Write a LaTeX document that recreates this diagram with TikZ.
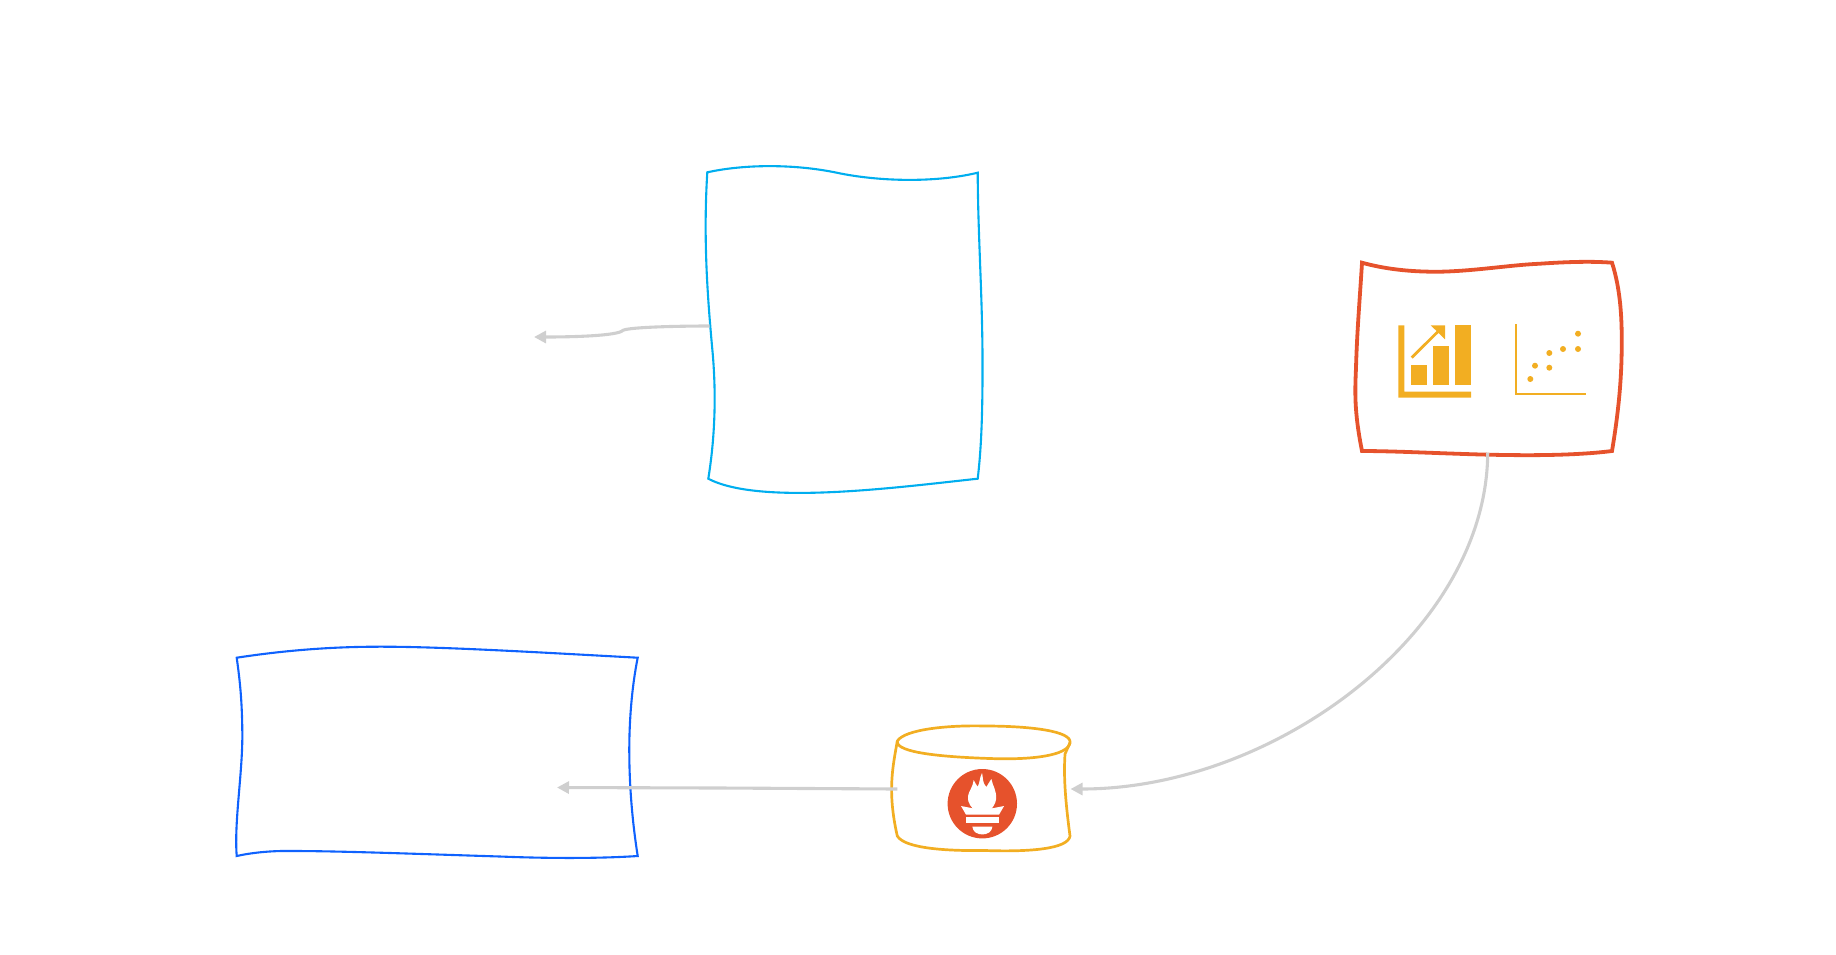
\documentclass[tikz,border=0pt]{standalone}
\usetikzlibrary{arrows.meta}
\definecolor{cyanbox}{HTML}{00AEEF}
\definecolor{bluebox}{HTML}{0F62FE}
\definecolor{promo}{HTML}{E6522C}
\definecolor{gold}{HTML}{F2AE22}
\definecolor{wire}{HTML}{CFCFCF}
\tikzset{
  x=0.5pt,y=-0.5pt,
  boxline/.style={line width=1.05pt,line join=miter},
  goldline/.style={line width=1.35pt,draw=gold,line join=round},
  link/.style={draw=wire,line width=1.55pt,-{Triangle[length=6pt,width=6pt]}},
  goldfill/.style={fill=gold,draw=none},
}
\begin{document}
\begin{tikzpicture}
\useasboundingbox (0,0) rectangle (1836,954);
\begin{scope}[yshift=-0.5pt]
% anchor points
\coordinate (cyanW) at (709.5,325);
\coordinate (cyanOut) at (534,336);
\coordinate (orangeS) at (1487.7,451.7);
\coordinate (cylE) at (1070.5,788);
\coordinate (cylW) at (897.3,788);
\coordinate (blueIn) at (557,786.5);
% cyan box
\draw[boxline,draw=cyanbox] (707.3,171.3)
  .. controls (745,163) and (795,163) .. (836.7,171.7)
  .. controls (878,180.5) and (935,182) .. (977.7,171.7)
  .. controls (978,240) and (983,300) .. (982.5,376.7)
  .. controls (982.3,420) and (981,450) .. (977.7,477.7)
  .. controls (900,486) and (760,505) .. (708.3,477.7)
  .. controls (716,430) and (716,385) .. (712,345)
  .. controls (708,300) and (703,240) .. (707.3,171.3) -- cycle;
% blue box
\draw[boxline,draw=bluebox] (236.7,656.7)
  .. controls (300,647) and (350,645.5) .. (386.7,645.7)
  .. controls (450,646) and (550,652) .. (637.7,656.7)
  .. controls (632,685) and (629,720) .. (629.3,753.3)
  .. controls (629.5,790) and (633,825) .. (637.7,855)
  .. controls (600,857.5) and (550,857.5) .. (500,855.5)
  .. controls (420,853) and (340,850) .. (293,850)
  .. controls (270,849.5) and (250,852) .. (236.7,855)
  .. controls (234,820) and (243,770) .. (242.3,730)
  .. controls (242,700) and (240,680) .. (236.7,656.7) -- cycle;
% orange box
\draw[draw=promo,line width=1.9pt,line join=miter] (1362,261.7)
  .. controls (1385,268) and (1410,271) .. (1440,270.7)
  .. controls (1475,270) and (1510,264) .. (1540,262.7)
  .. controls (1565,261) and (1590,260) .. (1612,261.7)
  .. controls (1621,290) and (1622,320) .. (1621.7,346.7)
  .. controls (1621.5,385) and (1617,420) .. (1612,450)
  .. controls (1580,454) and (1540,454.5) .. (1506.7,454)
  .. controls (1460,453.5) and (1400,450) .. (1362,450)
  .. controls (1354,410) and (1355,390) .. (1356,366.7)
  .. controls (1357,330) and (1360,295) .. (1362,261.7) -- cycle;
% bar chart icon
\fill[goldfill] (1398.3,324.3) -- (1404.3,324.3) -- (1404.3,390.7) -- (1471,390.7) -- (1471,396.7) -- (1398.3,396.7) -- cycle;
\fill[goldfill] (1410.7,363.7) rectangle (1426.7,384);
\fill[goldfill] (1433,345) rectangle (1449,384);
\fill[goldfill] (1455.3,324.3) rectangle (1471,384);
\draw[draw=gold,line width=1.4pt] (1411.7,356.7) -- (1438,330.5);
\fill[goldfill] (1430.7,324.3) -- (1445,324.3) -- (1445,338.3) -- cycle;
% scatter icon
\draw[draw=gold,line width=0.85pt] (1515.7,323.3) -- (1515.7,392.7) -- (1586,392.7);
\foreach \px/\py in {1578/332.7,1578/348,1563/348,1549.3/352,1549.3/366.7,1535/364.7,1530.3/378}
  \fill[goldfill] (\px,\py) circle[radius=3];
% cylinder
\draw[goldline] (897.3,740)
  .. controls (905,728) and (950,724) .. (985,725)
  .. controls (1030,725) and (1072,730) .. (1070,741.7)
  .. controls (1068,755) and (1030,759) .. (990,757.5)
  .. controls (945,756) and (895,752) .. (897.3,740) -- cycle;
\draw[goldline] (897.3,740)
  .. controls (893,765) and (887,790) .. (897.3,835)
  .. controls (905,848) and (950,850) .. (985,849.5)
  .. controls (1030,851) and (1068,848) .. (1070,835)
  .. controls (1064,790) and (1064,770) .. (1065,753) -- (1070,741.7);
% logo
\fill[promo] (982.3,802.7) circle[radius=34.7];
\begin{scope}[shift={(880,710)},x=0.1667pt,y=-0.1667pt]
  \fill[white] (306,186)
    .. controls (310,200) and (306,215) .. (319,228)
    .. controls (322,220) and (330,212) .. (334,204)
    .. controls (338,225) and (351,240) .. (348,265)
    .. controls (346,280) and (338,288) .. (330,300)
    -- (285,300)
    .. controls (276,288) and (262,280) .. (264,255)
    .. controls (266,240) and (279,228) .. (281,207)
    .. controls (285,215) and (289,222) .. (293,227)
    .. controls (300,215) and (298,200) .. (306,186) -- cycle;
  \fill[white] (243,285) -- (285,293) -- (330,293) -- (372,285) -- (357,311) -- (258,311) -- cycle;
  \fill[white] (258,318) rectangle (357,337);
  \fill[white] (277,347) -- (337,347) .. controls (335,378) and (279,378) .. (277,347) -- cycle;
\end{scope}
% connectors
\draw[link] (cyanW) .. controls (680,325) and (630,326) .. (623,329.3)
  .. controls (618,335) and (570,336) .. (cyanOut);
\draw[link] (cylW) -- (720,787) -- (blueIn);
\draw[link] (orangeS) .. controls (1487,630) and (1275,788) .. (cylE);
\end{scope}
\end{tikzpicture}
\end{document}
